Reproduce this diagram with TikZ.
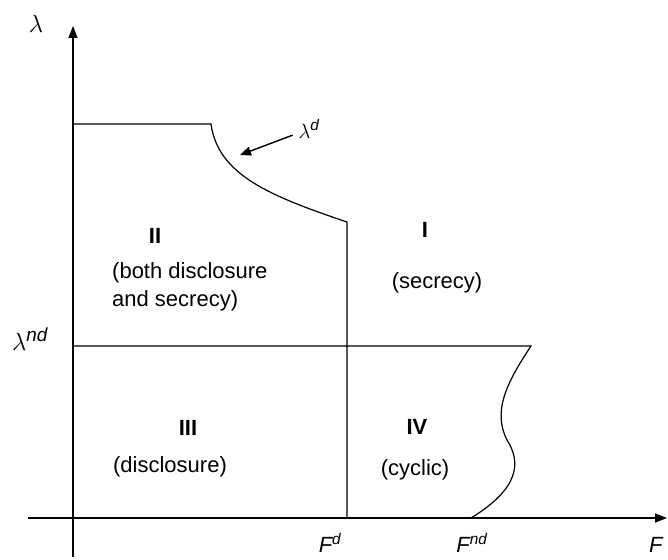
\documentclass[tikz,border=0pt]{standalone}
\usepackage{fontspec}
\setmainfont{Liberation Sans}
\usetikzlibrary{arrows.meta}
\begin{document}
\begin{tikzpicture}[x=1pt,y=-1pt,>={Triangle[length=12pt,width=9pt]},
  txt/.style={font=\fontsize{22}{28}\selectfont,inner sep=0pt},
  roman/.style={font=\fontsize{22}{28}\selectfont\bfseries,inner sep=0pt},
  sym/.style={font=\fontsize{22}{26}\selectfont,inner sep=1pt},
  bigsym/.style={font=\fontsize{27}{30}\selectfont,inner sep=1pt},
  axis/.style={line width=1.4pt},
  bound/.style={line width=1.2pt}]
\useasboundingbox (0,0) rectangle (668,559);
% axes
\coordinate (xs) at (28,518);
\coordinate (xe) at (667,518);
\coordinate (ys) at (73,557);
\coordinate (ye) at (73,26);
\draw[axis,->] (xs) -- (xe);
\draw[axis,->] (ys) -- (ye);
\node[bigsym] (lam) at (36,24) {$\lambda$};
\node[bigsym] (lamnd) at (30,339) {$\lambda$\textsuperscript{\itshape nd}};
\node[sym,anchor=base] (Fd) at (330,552) {\itshape F\textsuperscript{d}};
\node[sym,anchor=base] (Fnd) at (472,552) {\itshape F\textsuperscript{nd}};
\node[sym,anchor=base west] (F) at (648,552) {\itshape F};
% boundaries
\coordinate (ltop) at (73,124);
\coordinate (kink) at (211,124);
\coordinate (fdtop) at (347,222);
\coordinate (fdbot) at (347,518);
\coordinate (lndl) at (73,346);
\coordinate (lndr) at (531,346);
\coordinate (infl) at (507,440);
\coordinate (fnd) at (471,518);
\draw[bound] (ltop) -- (kink) .. controls (218,175) and (270,196) .. (fdtop) -- (fdbot);
\draw[bound] (lndl) -- (lndr) .. controls (505,385) and (493,412) .. (infl)
  .. controls (521,462) and (520,488) .. (fnd);
% label of the upper curve
\node[sym] (lamd) at (309,129) {$\lambda$\textsuperscript{\itshape d}};
\coordinate (lamdtip) at (240,155);
\draw[->,line width=1.4pt,>={Triangle[length=11pt,width=9pt]},shorten <=5pt] (lamd) -- (lamdtip);
% regions
\node[roman] (r2) at (155,236) {II};
\node[txt,align=left,anchor=west] (r2t) at (112,287) {(both disclosure\\and secrecy)};
\node[roman] (r1) at (425,230) {I};
\node[txt] (r1t) at (437,283) {(secrecy)};
\node[roman] (r3) at (188,428) {III};
\node[txt] (r3t) at (170,467) {(disclosure)};
\node[roman] (r4) at (417,427) {IV};
\node[txt] (r4t) at (415,470) {(cyclic)};
\end{tikzpicture}
\end{document}
